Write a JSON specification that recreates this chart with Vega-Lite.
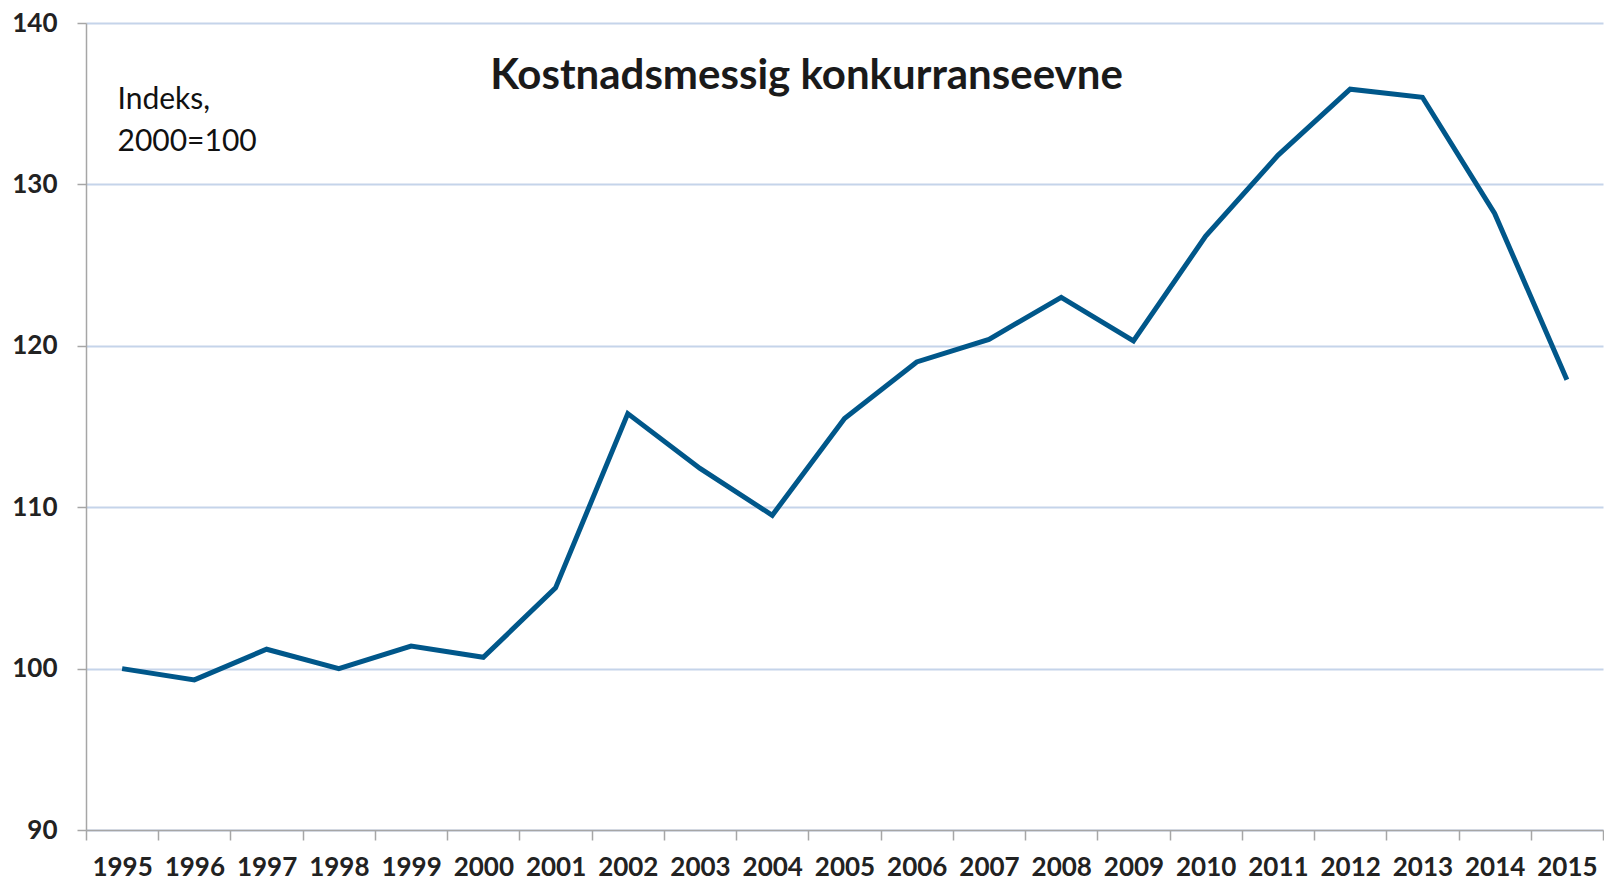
{
  "$schema": "https://vega.github.io/schema/vega-lite/v6.json",
  "width": 1517,
  "height": 807,
  "autosize": {"type": "none"},
  "padding": {"left": 86, "top": 23, "right": 1, "bottom": 53},
  "background": "white",
  "title": {
    "text": "Kostnadsmessig konkurranseevne",
    "anchor": "middle",
    "frame": "group",
    "orient": "top",
    "font": "Lato",
    "fontSize": 42,
    "fontWeight": "bold",
    "color": "#1a1a1a",
    "baseline": "alphabetic",
    "offset": -62,
    "dy": 59,
    "dx": -38
  },
  "data": {
    "values": [
      {"year": "1995", "value": 100.0},
      {"year": "1996", "value": 99.3},
      {"year": "1997", "value": 101.2},
      {"year": "1998", "value": 100.0},
      {"year": "1999", "value": 101.4},
      {"year": "2000", "value": 100.7},
      {"year": "2001", "value": 105.0},
      {"year": "2002", "value": 115.8},
      {"year": "2003", "value": 112.4},
      {"year": "2004", "value": 109.5},
      {"year": "2005", "value": 115.5},
      {"year": "2006", "value": 119.0},
      {"year": "2007", "value": 120.4},
      {"year": "2008", "value": 123.0},
      {"year": "2009", "value": 120.3},
      {"year": "2010", "value": 126.8},
      {"year": "2011", "value": 131.8},
      {"year": "2012", "value": 135.9},
      {"year": "2013", "value": 135.4},
      {"year": "2014", "value": 128.2},
      {"year": "2015", "value": 117.9}
    ]
  },
  "mark": {"type": "line", "color": "#00578a", "strokeWidth": 5, "strokeJoin": "miter"},
  "encoding": {
    "x": {
      "field": "year",
      "type": "ordinal",
      "scale": {"type": "band", "paddingInner": 0, "paddingOuter": 0},
      "axis": {
        "title": null,
        "labelAngle": 0,
        "labelFont": "Lato",
        "labelFontSize": 26,
        "labelFontWeight": "bold",
        "labelColor": "#222222",
        "labelPadding": 14,
        "tickBand": "extent",
        "tickSize": 10,
        "tickColor": "#a6a6a6",
        "tickWidth": 1.5,
        "domainColor": "#a6a6a6",
        "domainWidth": 1.5,
        "grid": false
      }
    },
    "y": {
      "field": "value",
      "type": "quantitative",
      "scale": {"domain": [90, 140], "nice": false, "zero": false},
      "axis": {
        "values": [90, 100, 110, 120, 130, 140],
        "title": ["Indeks,", "2000=100"],
        "titleAngle": 0,
        "titleAlign": "left",
        "titleBaseline": "alphabetic",
        "titleX": 31,
        "titleY": 85,
        "titleFont": "Lato",
        "titleFontSize": 30,
        "titleFontWeight": "normal",
        "titleColor": "#111111",
        "titleLineHeight": 42,
        "labelFont": "Lato",
        "labelFontSize": 26,
        "labelFontWeight": "bold",
        "labelColor": "#222222",
        "labelPadding": 20,
        "tickSize": 9,
        "tickColor": "#a6a6a6",
        "tickWidth": 1.5,
        "domainColor": "#a6a6a6",
        "domainWidth": 1.5,
        "grid": true,
        "gridColor": "#c5d4ea",
        "gridWidth": 2
      }
    }
  },
  "config": {"view": {"stroke": null}}
}
